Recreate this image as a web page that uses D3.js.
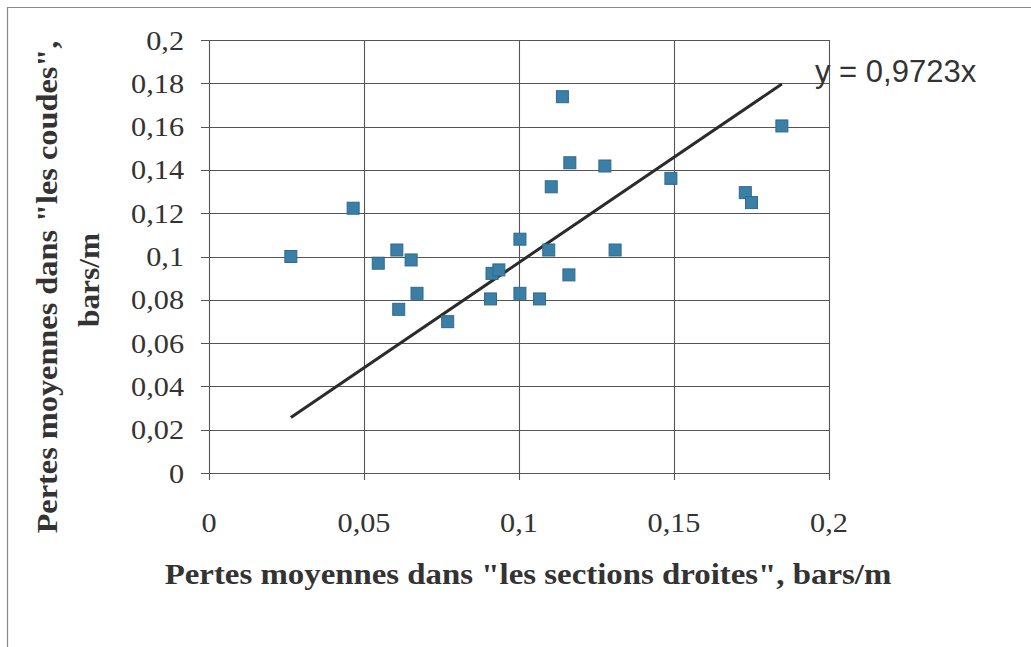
<!DOCTYPE html>
<html><head><meta charset="utf-8">
<script src="https://cdn.jsdelivr.net/npm/d3@7"></script>
</head><body style="margin:0">
<svg id="c" width="1031" height="647"></svg>
<script>
const xValues = [0.0264,0.0465,0.0546,0.0606,0.0652,0.0612,0.0671,0.0770,0.0908,0.0913,0.0935,0.1003,0.1003,0.1066,0.1096,0.1104,0.1140,0.1164,0.1161,0.1277,0.1310,0.1490,0.1730,0.1750,0.1848];
const yValues = [0.1000,0.1223,0.0969,0.1030,0.0984,0.0756,0.0830,0.0699,0.0804,0.0922,0.0938,0.1080,0.0830,0.0804,0.1030,0.1322,0.1738,0.1433,0.0915,0.1418,0.1030,0.1361,0.1295,0.1249,0.1603];
const slope = 0.9723;
const trendRange = [0.0264, 0.1848];
const xTicks = [0,0.05,0.1,0.15,0.2];
const yTicks = [0,0.02,0.04,0.06,0.08,0.1,0.12,0.14,0.16,0.18,0.2];
const xTitle = 'Pertes moyennes dans "les sections droites", bars/m';
const yTitle1 = 'Pertes moyennes dans "les coudes",';
const yTitle2 = 'bars/m';
const eqLabel = 'y = 0,9723x';

const SERIF = 'Liberation Serif';
const SANS = 'Liberation Sans';
const svg = d3.select('#c');
const L=209,R=829,T=40,B=473;
const x = d3.scaleLinear().domain([0,0.2]).range([L,R]);
const y = d3.scaleLinear().domain([0,0.2]).range([B,T]);
const fmt = d => String(+d.toFixed(2)).replace('.',',');

svg.append('path').attr('d','M7.5,647 V7.5 H1031').attr('fill','none').attr('stroke','#888').attr('stroke-width',1.2);

const g = svg.append('g');
g.selectAll('.hg').data(yTicks).join('line')
 .attr('x1',L-8).attr('x2',R).attr('y1',d=>Math.round(y(d))+0.5).attr('y2',d=>Math.round(y(d))+0.5)
 .attr('stroke','#555').attr('stroke-width',1.1);
g.selectAll('.vg').data(xTicks).join('line')
 .attr('y1',T).attr('y2',B+7).attr('x1',d=>Math.round(x(d))+0.5).attr('x2',d=>Math.round(x(d))+0.5)
 .attr('stroke','#555').attr('stroke-width',1.1);

// tick labels from scales
svg.append('g').selectAll('text').data(yTicks).join('text')
 .attr('transform',d=>`translate(${L-25},${y(d)}) scale(1.08,1)`).attr('dy','0.34em').attr('text-anchor','end')
 .attr('font-family',SERIF).attr('font-size',28).attr('fill','#333').text(fmt);
svg.append('g').selectAll('text').data(xTicks).join('text')
 .attr('transform',d=>`translate(${x(d)},${B+59}) scale(1.08,1)`).attr('text-anchor','middle')
 .attr('font-family',SERIF).attr('font-size',28).attr('fill','#333').text(fmt);

svg.append('line')
 .attr('x1',x(trendRange[0])).attr('y1',y(slope*trendRange[0]))
 .attr('x2',x(trendRange[1])).attr('y2',y(slope*trendRange[1]))
 .attr('stroke','#2b2b2b').attr('stroke-width',3);

const pts = xValues.map((v,i)=>[v,yValues[i]]);
svg.selectAll('.pt').data(pts).join('rect')
 .attr('x',d=>x(d[0])-6).attr('y',d=>y(d[1])-6).attr('width',12).attr('height',12)
 .attr('fill','#3b7fa6').attr('stroke','#2e6a8e').attr('stroke-width',1);

svg.append('text').attr('font-family',SANS).attr('x',815).attr('y',82).text(eqLabel)
 .attr('font-size',31).attr('fill','#333');

function fitted(text, cx, cy, rot, target){
  const t = svg.append('text').attr('font-family',SERIF).attr('text-anchor','middle')
    .attr('font-weight','bold').attr('font-size',30).attr('fill','#333').text(text);
  const w = t.node().getComputedTextLength();
  const s = target ? target / w : 1.06;
  t.attr('transform',`translate(${cx},${cy}) rotate(${rot}) scale(${s},1)`);
}
fitted(xTitle, 528, 584, 0, 727);
fitted(yTitle1, 57, 287, -90, 493);
fitted(yTitle2, 99, 280, -90, 94);
</script>
</body></html>
